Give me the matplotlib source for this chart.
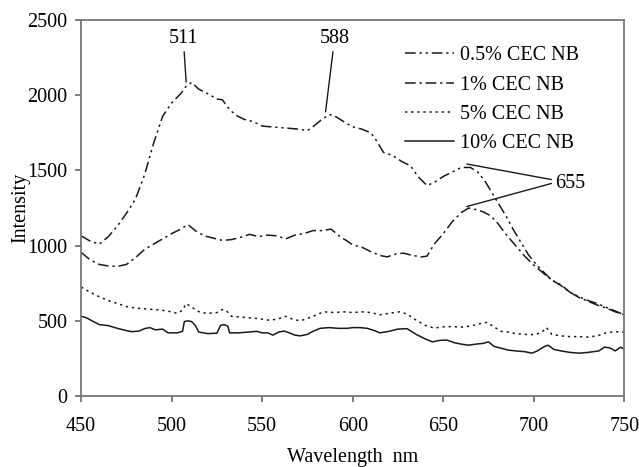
import matplotlib
matplotlib.use('Agg')
import matplotlib.pyplot as plt

plt.rcParams['font.family'] = ['Liberation Serif', 'DejaVu Serif']

# 0.5% CEC NB
wl_05 = [450, 455, 460, 465, 470, 475, 480, 485, 490, 495, 500, 505, 508, 511, 515, 520,
         525, 528, 531, 535, 540, 545, 550, 555, 560, 565, 570, 575, 579, 583, 587, 589,
         593, 597, 600, 605, 610, 613, 617, 622, 627, 632, 636, 641, 645, 650, 655, 660,
         665, 669, 673, 677, 681, 685, 689, 693, 697, 701, 705, 710, 715, 720, 725, 730,
         735, 740, 745, 750]
int_05 = [1065, 1030, 1010, 1060, 1130, 1215, 1310, 1470, 1680, 1860, 1950, 2010, 2060, 2085, 2040, 2010,
          1975, 1970, 1920, 1870, 1840, 1825, 1795, 1790, 1785, 1780, 1775, 1765, 1800, 1840, 1870, 1870,
          1840, 1810, 1790, 1775, 1750, 1700, 1620, 1600, 1560, 1530, 1460, 1400, 1420, 1460, 1490, 1520,
          1520, 1490, 1430, 1350, 1270, 1190, 1100, 1020, 940, 880, 830, 770, 740, 690, 660, 635,
          615, 590, 565, 540]

# 1% CEC NB
wl_1 = [450, 455, 460, 465, 470, 475, 480, 485, 490, 495, 500, 505, 509, 513, 518, 523,
        528, 533, 538, 543, 548, 553, 558, 563, 568, 573, 578, 583, 588, 593, 597, 600,
        605, 610, 615, 619, 624, 628, 633, 638, 641, 645, 650, 655, 660, 664, 668, 672,
        676, 680, 685, 690, 695, 700, 705, 710, 715, 720, 725, 730, 735, 740, 745, 750]
int_1 = [955, 905, 875, 865, 862, 875, 920, 975, 1010, 1045, 1080, 1110, 1140, 1100, 1065, 1050,
         1035, 1040, 1055, 1075, 1060, 1070, 1065, 1045, 1070, 1080, 1100, 1100, 1110, 1060, 1030, 1005,
         990, 960, 935, 925, 945, 950, 935, 925, 930, 1010, 1080, 1160, 1220, 1250, 1240, 1225,
         1200, 1150, 1070, 1000, 930, 870, 820, 770, 735, 690, 655, 630, 605, 585, 560, 540]

# 5% CEC NB
wl_5 = [450, 455, 460, 465, 470, 475, 480, 485, 490, 495, 500, 503, 506, 508, 510, 513,
        516, 520, 525, 528, 530, 533, 538, 543, 548, 553, 558, 563, 567, 571, 576, 580,
        584, 590, 595, 600, 605, 610, 615, 620, 626, 630, 635, 640, 645, 650, 655, 660,
        665, 670, 674, 678, 682, 686, 690, 695, 700, 704, 707, 710, 715, 720, 725, 730,
        735, 740, 745, 750]
int_5 = [725, 690, 660, 635, 615, 595, 585, 580, 575, 570, 560, 550, 570, 615, 600, 575,
         555, 550, 555, 575, 570, 530, 525, 520, 515, 505, 510, 530, 510, 500, 520, 540,
         560, 555, 560, 555, 560, 555, 540, 550, 560, 545, 505, 470, 452, 460, 462, 458,
         465, 480, 490, 460, 430, 425, 415, 410, 408, 420, 455, 410, 400, 395, 395, 392,
         400, 420, 428, 425]

# 10% CEC NB
wl_10 = [450, 453, 456, 460, 465, 470, 475, 478, 482, 485, 488, 491, 495, 498, 503, 506,
         507, 509, 511, 513, 515, 520, 525, 527, 529, 531, 532, 537, 542, 547, 550, 553,
         556, 559, 562, 565, 568, 571, 575, 578, 582, 587, 592, 597, 600, 604, 608, 612,
         615, 620, 625, 630, 635, 640, 644, 648, 652, 656, 660, 664, 668, 672, 675, 678,
         682, 686, 690, 695, 699, 702, 706, 708, 711, 715, 720, 725, 730, 733, 736, 739,
         742, 745, 748, 750]
int_10 = [530, 520, 500, 475, 468, 450, 435, 428, 432, 448, 455, 440, 445, 420, 420, 430,
          495, 500, 495, 470, 425, 415, 418, 470, 475, 465, 420, 420, 425, 430, 420, 420,
          405, 425, 432, 420, 405, 400, 410, 430, 450, 455, 450, 450, 455, 455, 450, 435,
          420, 430, 445, 448, 410, 380, 360, 370, 372, 355, 345, 338, 345, 350, 360, 330,
          318, 305, 300, 295, 285, 300, 330, 338, 310, 300, 290, 285, 290, 295, 300, 325,
          320, 300, 325, 310]

series = [
    (wl_05, int_05, '0.5% CEC NB', (0, (7, 2.5, 1.5, 2.5, 1.5, 2.5))),
    (wl_1, int_1, '1% CEC NB', (0, (7, 2.5, 1.5, 2.5))),
    (wl_5, int_5, '5% CEC NB', (0, (1.5, 2.5))),
    (wl_10, int_10, '10% CEC NB', '-'),
]

fig = plt.figure(figsize=(6.39, 4.67), dpi=100)
ax = fig.add_axes([0.127, 0.152, 0.85, 0.805])

for x, y, lab, ls in series:
    ax.plot(x, y, color='#1a1a1a', lw=1.1, linestyle=ls, label=lab)

ax.set_xlim(450, 750)
ax.set_ylim(0, 2500)
ax.set_xticks([450, 500, 550, 600, 650, 700, 750])
ax.set_yticks([0, 500, 1000, 1500, 2000, 2500])
ax.tick_params(labelsize=14.5, direction='out', length=4, color='#666666', width=1.2)
ax.tick_params(axis='x', pad=11)
ax.tick_params(axis='y', pad=6)
for s in ax.spines.values():
    s.set_color('#777777')
    s.set_linewidth(1.3)

ax.set_xlabel('Wavelength  nm', fontsize=14.5, labelpad=9)
ax.set_ylabel('Intensity', fontsize=14.5, labelpad=-2)

# peak labels
line_kw = dict(arrowstyle='-', color='#1a1a1a', lw=1.0, shrinkA=1, shrinkB=0)
ax.annotate('511', xy=(508, 2088), xytext=(506.4, 2380), ha='center', va='center',
            fontsize=14.5, arrowprops=line_kw)
ax.annotate('588', xy=(585, 1890), xytext=(590, 2380), ha='center', va='center',
            fontsize=14.5, arrowprops=line_kw)
ax.annotate('655', xy=(663, 1543), xytext=(712, 1416), ha='left', va='center',
            fontsize=14.5, arrowprops=line_kw)
ax.annotate('', xy=(663, 1260), xytext=(710.5, 1416), arrowprops=line_kw)

ax.legend(loc='upper left', bbox_to_anchor=(0.597, 0.93), frameon=False, fontsize=14.5,
          handlelength=2.4, handletextpad=0.3, labelspacing=0.5, borderpad=0, borderaxespad=0)

fig.savefig('out.png', dpi=100)
